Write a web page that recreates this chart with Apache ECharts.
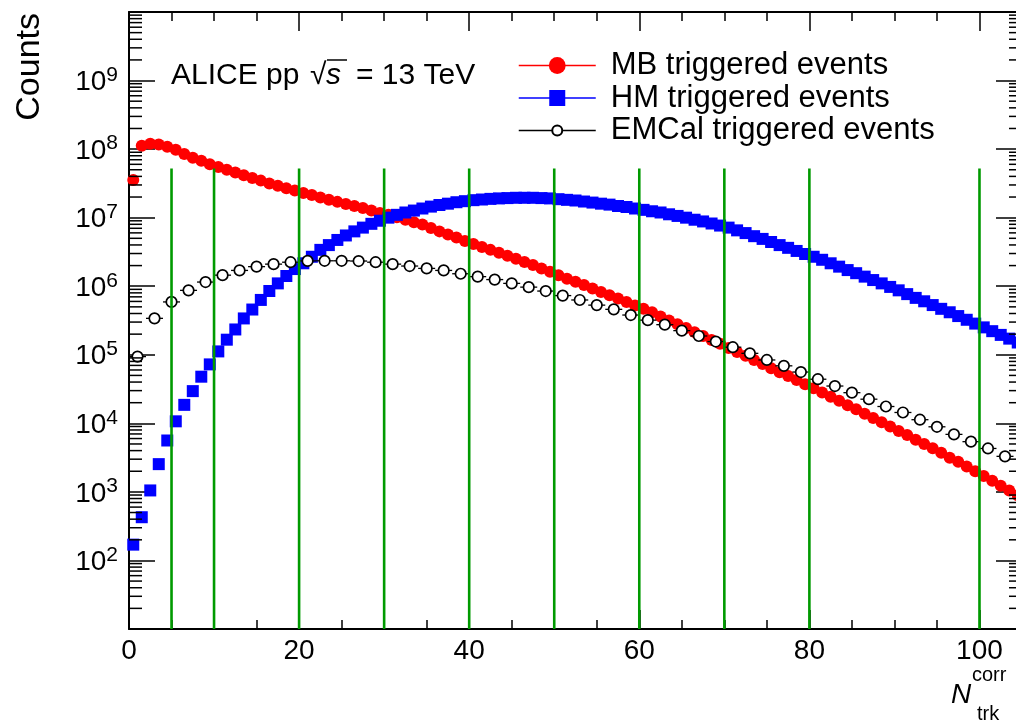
<!DOCTYPE html>
<html>
<head>
<meta charset="utf-8">
<script src="https://cdn.jsdelivr.net/npm/echarts@6/dist/echarts.min.js"></script>
<style>
html,body{margin:0;padding:0;background:#fff;}
#chart{width:1016px;height:721px;}
</style>
</head>
<body>
<div id="chart"></div>
<script>
// ---------------- DATA ----------------
// bin centres (width 1) for MB and HM triggered events
const binCentres = [
  0.5,1.5,2.5,3.5,4.5,5.5,6.5,7.5,8.5,9.5,
  10.5,11.5,12.5,13.5,14.5,15.5,16.5,17.5,18.5,19.5,
  20.5,21.5,22.5,23.5,24.5,25.5,26.5,27.5,28.5,29.5,
  30.5,31.5,32.5,33.5,34.5,35.5,36.5,37.5,38.5,39.5,
  40.5,41.5,42.5,43.5,44.5,45.5,46.5,47.5,48.5,49.5,
  50.5,51.5,52.5,53.5,54.5,55.5,56.5,57.5,58.5,59.5,
  60.5,61.5,62.5,63.5,64.5,65.5,66.5,67.5,68.5,69.5,
  70.5,71.5,72.5,73.5,74.5,75.5,76.5,77.5,78.5,79.5,
  80.5,81.5,82.5,83.5,84.5,85.5,86.5,87.5,88.5,89.5,
  90.5,91.5,92.5,93.5,94.5,95.5,96.5,97.5,98.5,99.5,
  100.5,101.5,102.5,103.5,104.5
];
const mbCounts = [
  3.55e7,1.12e8,1.2e8,1.17e8,1.08e8,9.77e7,8.51e7,7.5e7,6.76e7,6.03e7,
  5.5e7,5.01e7,4.57e7,4.17e7,3.8e7,3.47e7,3.16e7,2.92e7,2.69e7,2.48e7,
  2.29e7,2.14e7,1.97e7,1.82e7,1.7e7,1.58e7,1.48e7,1.38e7,1.27e7,1.17e7,
  1.1e7,1.01e7,9.33e6,8.6e6,7.94e6,7.08e6,6.31e6,5.69e6,5.13e6,4.57e6,
  4.12e6,3.72e6,3.39e6,3.09e6,2.79e6,2.51e6,2.26e6,2.04e6,1.82e6,1.62e6,
  1.45e6,1.29e6,1.16e6,1.04e6,9.23e5,8.22e5,7.41e5,6.61e5,5.89e5,5.25e5,
  4.68e5,4.17e5,3.63e5,3.16e5,2.79e5,2.45e5,2.14e5,1.88e5,1.64e5,1.45e5,
  1.26e5,1.1e5,9.66e4,8.41e4,7.33e4,6.38e4,5.56e4,4.9e4,4.27e4,3.72e4,
  3.24e4,2.82e4,2.45e4,2.14e4,1.84e4,1.6e4,1.38e4,1.2e4,1.04e4,9.02e3,
  7.76e3,6.76e3,5.75e3,5.01e3,4.32e3,3.72e3,3.16e3,2.75e3,2.34e3,2.0e3,
  1.7e3,1.45e3,1.23e3,1.05e3,8.9e2
];
const hmCounts = [
  170,427,1.05e3,2.54e3,5.62e3,1.07e4,1.86e4,2.95e4,4.79e4,7.24e4,
  1.12e5,1.66e5,2.34e5,3.39e5,4.57e5,6.31e5,8.51e5,1.1e6,1.41e6,1.78e6,
  2.16e6,2.69e6,3.39e6,3.98e6,4.73e6,5.5e6,6.31e6,7.16e6,8.13e6,9.02e6,
  1.0e7,1.1e7,1.19e7,1.27e7,1.36e7,1.45e7,1.53e7,1.6e7,1.68e7,1.74e7,
  1.8e7,1.84e7,1.88e7,1.91e7,1.93e7,1.95e7,1.95e7,1.95e7,1.93e7,1.91e7,
  1.86e7,1.82e7,1.78e7,1.72e7,1.66e7,1.6e7,1.55e7,1.48e7,1.43e7,1.36e7,
  1.3e7,1.24e7,1.19e7,1.12e7,1.06e7,1.0e7,9.33e6,8.81e6,8.22e6,7.67e6,
  7.16e6,6.53e6,5.96e6,5.37e6,4.9e6,4.42e6,3.98e6,3.63e6,3.27e6,2.95e6,
  2.69e6,2.43e6,2.16e6,1.93e6,1.72e6,1.55e6,1.38e6,1.23e6,1.1e6,9.77e5,
  8.71e5,7.67e5,6.76e5,6.03e5,5.31e5,4.68e5,4.17e5,3.67e5,3.24e5,2.85e5,
  2.51e5,2.21e5,1.95e5,1.72e5,1.51e5
];
// bin centres (width 2) for EMCal triggered events
const emcalCentres = [
  1,3,5,7,9,11,13,15,17,19,
  21,23,25,27,29,31,33,35,37,39,
  41,43,45,47,49,51,53,55,57,59,
  61,63,65,67,69,71,73,75,77,79,
  81,83,85,87,89,91,93,95,97,99,
  101,103
];
const emcalCounts = [
  9.4e4,3.4e5,5.9e5,8.7e5,1.15e6,1.45e6,1.7e6,1.93e6,2.1e6,2.24e6,
  2.34e6,2.35e6,2.35e6,2.33e6,2.24e6,2.1e6,1.97e6,1.82e6,1.7e6,1.52e6,
  1.38e6,1.25e6,1.1e6,9.7e5,8.5e5,7.3e5,6.3e5,5.3e5,4.6e5,3.8e5,
  3.2e5,2.75e5,2.25e5,1.88e5,1.56e5,1.29e5,1.05e5,8.4e4,6.9e4,5.6e4,
  4.4e4,3.5e4,2.8e4,2.25e4,1.76e4,1.44e4,1.13e4,8.9e3,6.9e3,5.4e3,
  4.3e3,3.3e3
];
const emcalHalfWidth = 1;
// vertical multiplicity-class boundaries (green lines)
const classEdges = [5,10,20,30,40,50,60,70,80,100];
const classLineTop = 5.2e7;
const classLineBottom = 10;
// axis ranges / ticks
const xRange = [0, 105];
const xMajorTicks = [0,20,40,60,80,100];
const yRange = [10, 1e10];
const yLabelExponents = [2,3,4,5,6,7,8,9];
const yMinorMultipliers = [2,3,4,5,6,7,8,9];
const yDecades = [1e1,1e2,1e3,1e4,1e5,1e6,1e7,1e8,1e9];
const seriesNames = ['MB triggered events','HM triggered events','EMCal triggered events'];

// ---------------- CHART ----------------
const FONT = '"Liberation Sans", Arial, Helvetica, sans-serif';
const zip = (xs, ys) => xs.map((x, i) => [x, ys[i]]);
const yMinor = [];
yDecades.forEach(d => yMinorMultipliers.forEach(m => yMinor.push([xRange[0], m * d])));

const chart = echarts.init(document.getElementById('chart'), null, {renderer: 'canvas'});

const axisBase = {
  type: 'value', min: xRange[0], max: xRange[1], splitLine: {show: false},
  axisLine: {show: false, onZero: false}, axisLabel: {show: false}
};
const tickStyle = {color: '#000', width: 1.5};

const legendCommon = {
  orient: 'vertical', left: 518, padding: 0, itemWidth: 77, selectedMode: false,
  textStyle: {fontFamily: FONT, fontSize: 31, color: '#000', lineHeight: 30, padding: [0, 0, 0, 10]},
  lineStyle: {opacity: 1, width: 1.5}
};

const option = {
  animation: false,
  backgroundColor: '#fff',
  grid: {left: 129, right: -6, top: 12, bottom: 92, containLabel: false, outerBoundsMode: 'none'},
  xAxis: [
    Object.assign({}, axisBase, {
      position: 'bottom', interval: 20,
      axisLine: {show: true, onZero: false, lineStyle: {color: '#000', width: 2}},
      axisTick: {show: true, inside: true, length: 19, lineStyle: tickStyle},
      axisLabel: {show: true, margin: 8, fontFamily: FONT, fontSize: 28, color: '#000',
        formatter: v => xMajorTicks.indexOf(v) >= 0 ? String(v) : ''}
    }),
    Object.assign({}, axisBase, {
      position: 'bottom', interval: 5,
      axisTick: {show: true, inside: true, length: 9, lineStyle: tickStyle}
    }),
    Object.assign({}, axisBase, {
      position: 'top', interval: 20,
      axisLine: {show: true, onZero: false, lineStyle: {color: '#000', width: 2}},
      axisTick: {show: true, inside: true, length: 19, lineStyle: tickStyle}
    }),
    Object.assign({}, axisBase, {
      position: 'top', interval: 5,
      axisTick: {show: true, inside: true, length: 9, lineStyle: tickStyle}
    })
  ],
  yAxis: [
    {
      type: 'log', logBase: 10, min: yRange[0], max: yRange[1], splitNumber: 9, position: 'left',
      splitLine: {show: false},
      axisLine: {show: true, onZero: false, lineStyle: {color: '#000', width: 2}},
      axisTick: {show: true, inside: true, length: 26, lineStyle: tickStyle},
      axisLabel: {
        margin: 11,
        formatter: v => {
          const e = Math.round(Math.log10(v));
          return yLabelExponents.indexOf(e) >= 0 ? '{a|10}{b|' + e + '}' : '';
        },
        rich: {
          a: {fontFamily: FONT, fontSize: 28, color: '#000', lineHeight: 32, verticalAlign: 'bottom'},
          b: {fontFamily: FONT, fontSize: 21, color: '#000', lineHeight: 18, verticalAlign: 'top'}
        }
      }
    },
    {
      type: 'log', logBase: 10, min: yRange[0], max: yRange[1], splitNumber: 9, position: 'right',
      splitLine: {show: false},
      axisLine: {show: true, onZero: false, lineStyle: {color: '#000', width: 2}},
      axisTick: {show: true, inside: true, length: 26, lineStyle: tickStyle},
      axisLabel: {show: false}
    }
  ],
  legend: [
    Object.assign({}, legendCommon, {data: [seriesNames[0]], top: 50, itemHeight: 21}),
    Object.assign({}, legendCommon, {data: [seriesNames[1]], top: 82.5, itemHeight: 20}),
    Object.assign({}, legendCommon, {data: [seriesNames[2]], top: 115, itemHeight: 12.5})
  ],
  series: [
    {
      name: seriesNames[0], type: 'line', data: zip(binCentres, mbCounts),
      symbol: 'circle', symbolSize: 12, z: 2,
      itemStyle: {color: '#ff0000'}, lineStyle: {color: '#ff0000', width: 1.5, opacity: 0},
      emphasis: {disabled: true}
    },
    {
      name: seriesNames[1], type: 'line', data: zip(binCentres, hmCounts),
      symbol: 'rect', symbolSize: 12, z: 3,
      itemStyle: {color: '#0000ff'}, lineStyle: {color: '#0000ff', width: 1.5, opacity: 0},
      emphasis: {disabled: true}
    },
    {
      name: 'emcalBins', type: 'custom', z: 4, clip: false,
      data: zip(emcalCentres, emcalCounts),
      renderItem: (params, api) => {
        const x = api.value(0), y = api.value(1);
        const p0 = api.coord([x - emcalHalfWidth, y]);
        const p1 = api.coord([x + emcalHalfWidth, y]);
        return {type: 'line', shape: {x1: p0[0], y1: p0[1], x2: p1[0], y2: p1[1]},
                style: {stroke: '#000', lineWidth: 1.3}};
      }
    },
    {
      name: seriesNames[2], type: 'line', data: zip(emcalCentres, emcalCounts),
      symbol: 'circle', symbolSize: 10.5, z: 5,
      itemStyle: {color: '#ffffff', borderColor: '#000', borderWidth: 1.7},
      lineStyle: {color: '#000', width: 1.5, opacity: 0},
      emphasis: {disabled: true}
    },
    {
      name: 'classEdges', type: 'custom', z: 6, clip: false,
      data: classEdges.map(x => [x, classLineTop]),
      renderItem: (params, api) => {
        const x = api.value(0);
        const pTop = api.coord([x, api.value(1)]);
        const pBot = api.coord([x, classLineBottom]);
        return {type: 'line', shape: {x1: pTop[0], y1: pTop[1], x2: pBot[0], y2: pBot[1]},
                style: {stroke: '#009a00', lineWidth: 2.6}};
      }
    },
    {
      name: 'yMinorTicks', type: 'custom', z: 7, clip: false,
      data: yMinor,
      renderItem: (params, api) => {
        const v = api.value(1);
        const pl = api.coord([xRange[0], v]);
        const pr = api.coord([xRange[1], v]);
        return {type: 'group', children: [
          {type: 'line', shape: {x1: pl[0], y1: pl[1], x2: pl[0] + 13, y2: pl[1]}, style: {stroke: '#000', lineWidth: 1.5}},
          {type: 'line', shape: {x1: pr[0] - 13, y1: pr[1], x2: pr[0], y2: pr[1]}, style: {stroke: '#000', lineWidth: 1.5}}
        ]};
      }
    }
  ],
  graphic: [
    {type: 'text', x: 30, y: 13, rotation: Math.PI / 2,
     style: {text: 'Counts', fontFamily: FONT, fontSize: 34, fill: '#000', align: 'right', verticalAlign: 'middle'}},
    {type: 'text', x: 171, y: 75.5,
     style: {text: 'ALICE pp', fontFamily: FONT, fontSize: 30, fill: '#000', verticalAlign: 'middle'}},
    {type: 'text', x: 310, y: 75.5,
     style: {text: '\u221A', fontFamily: FONT, fontSize: 30, fill: '#000', verticalAlign: 'middle'}},
    {type: 'text', x: 326, y: 75.5,
     style: {text: 's', fontFamily: FONT, fontStyle: 'italic', fontSize: 30, fill: '#000', verticalAlign: 'middle'}},
    {type: 'line', shape: {x1: 327, y1: 60, x2: 347, y2: 60}, style: {stroke: '#000', lineWidth: 1.5}},
    {type: 'text', x: 356, y: 75.5,
     style: {text: '= 13 TeV', fontFamily: FONT, fontSize: 30, fill: '#000', verticalAlign: 'middle'}},
    {type: 'text', x: 951, y: 695,
     style: {text: 'N', fontFamily: FONT, fontStyle: 'italic', fontSize: 28, fill: '#000', verticalAlign: 'middle'}},
    {type: 'text', x: 972, y: 675,
     style: {text: 'corr', fontFamily: FONT, fontSize: 20, fill: '#000', verticalAlign: 'middle'}},
    {type: 'text', x: 977, y: 714,
     style: {text: 'trk', fontFamily: FONT, fontSize: 20, fill: '#000', verticalAlign: 'middle'}}
  ]
};
chart.setOption(option);
</script>
</body>
</html>
